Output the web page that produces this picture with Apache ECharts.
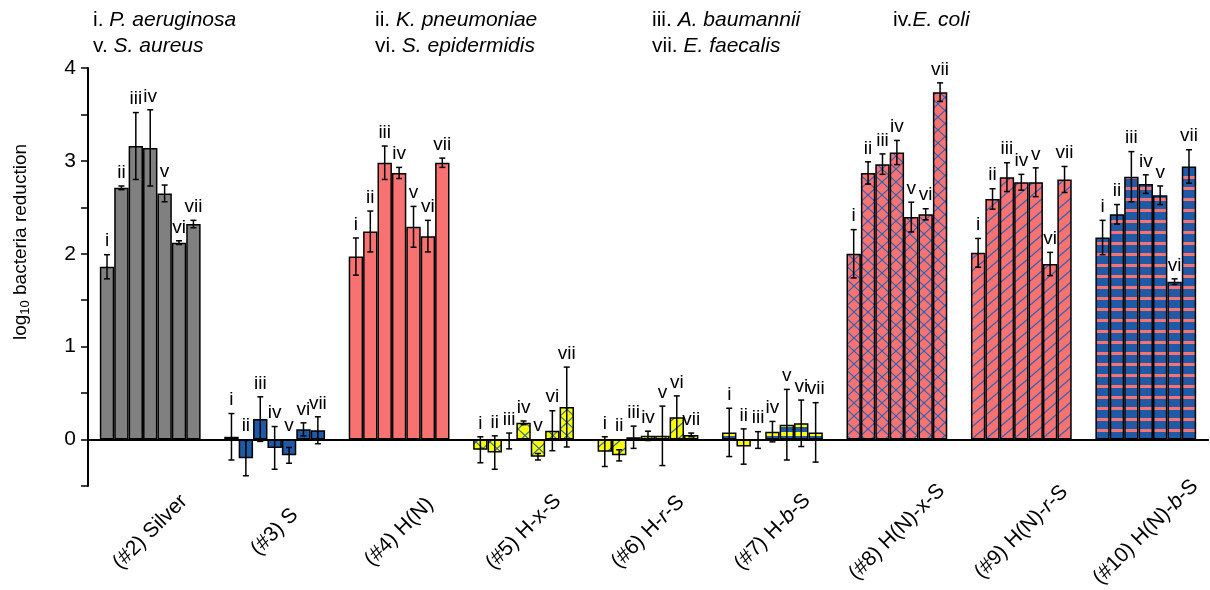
<!DOCTYPE html>
<html>
<head>
<meta charset="utf-8">
<script src="https://cdn.jsdelivr.net/npm/echarts@6/dist/echarts.min.js"></script>
<style>
  html, body { margin: 0; padding: 0; background: #fff; }
  #chart { width: 1210px; height: 590px; }
</style>
</head>
<body>
<div id="chart"></div>
<script>
// Sample groups along the x axis
const categories = ['(#2) Silver', '(#3) S', '(#4) H(N)', '(#5) H-x-S', '(#6) H-r-S',
  '(#7) H-b-S', '(#8) H(N)-x-S', '(#9) H(N)-r-S', '(#10) H(N)-b-S'];
// Strains tested on every sample (i..vii)
const strainLabels = ['i', 'ii', 'iii', 'iv', 'v', 'vi', 'vii'];
const yTicks = [-0.5, 4, 0.5]; // min, max, step

// log10 reduction (mean) and error (±) per sample, strains i..vii
const silverMean = [1.86, 2.71, 3.16, 3.14, 2.65, 2.12, 2.32];
const silverErr  = [0.13, 0.02, 0.36, 0.41, 0.09, 0.02, 0.04];
const sMean      = [0.03, -0.20, 0.22, -0.09, -0.17, 0.11, 0.10];
const sErr       = [0.25, 0.19, 0.24, 0.23, 0.085, 0.07, 0.145];
const hnMean     = [1.97, 2.24, 2.98, 2.87, 2.29, 2.19, 2.98];
const hnErr      = [0.20, 0.22, 0.18, 0.06, 0.22, 0.17, 0.05];
const hxsMean    = [-0.11, -0.14, -0.015, 0.18, -0.185, 0.095, 0.35];
const hxsErr     = [0.14, 0.18, 0.085, 0.02, 0.035, 0.215, 0.43];
const hrsMean    = [-0.13, -0.17, 0.025, 0.04, 0.04, 0.24, 0.05];
const hrsErr     = [0.16, 0.06, 0.12, 0.05, 0.32, 0.23, 0.02];
const hbsMean    = [0.077, -0.075, -0.005, 0.085, 0.16, 0.175, 0.077];
const hbsErr     = [0.26, 0.19, 0.09, 0.11, 0.38, 0.25, 0.32];
const hnxsMean   = [2.00, 2.87, 2.965, 3.09, 2.395, 2.425, 3.74];
const hnxsErr    = [0.26, 0.12, 0.11, 0.13, 0.16, 0.06, 0.10];
const hnrsMean   = [2.01, 2.59, 2.825, 2.77, 2.77, 1.89, 2.80];
const hnrsErr    = [0.155, 0.11, 0.155, 0.085, 0.155, 0.125, 0.14];
const hnbsMean   = [2.175, 2.425, 2.83, 2.75, 2.63, 1.70, 2.94];
const hnbsErr    = [0.185, 0.105, 0.27, 0.10, 0.10, 0.03, 0.18];

const groupMeans = [silverMean, sMean, hnMean, hxsMean, hrsMean, hbsMean, hnxsMean, hnrsMean, hnbsMean];
const groupErrs  = [silverErr, sErr, hnErr, hxsErr, hrsErr, hbsErr, hnxsErr, hnrsErr, hnbsErr];

const FONT = '"Liberation Sans", Arial, sans-serif';
const GRAY = '#808080', BLUE = '#2059a6', SALMON = '#f97272', YELLOW = '#ffff00', HATCH = '#2a63b3';
const CAT_GAP = 0.19;

// Tiled fills for the hatched bars
function tile(w, h, bg, draw) {
  const c = document.createElement('canvas');
  c.width = w; c.height = h;
  const ctx = c.getContext('2d');
  ctx.fillStyle = bg; ctx.fillRect(0, 0, w, h);
  draw(ctx, w, h);
  return { image: c, repeat: 'repeat' };
}
function crossFill(bg) {
  return tile(14, 13, bg, (ctx, w, h) => {
    ctx.strokeStyle = HATCH; ctx.lineWidth = 1.1;
    for (const dx of [-w, 0, w]) for (const dy of [-h, 0, h]) {
      ctx.beginPath(); ctx.moveTo(dx, dy); ctx.lineTo(dx + w, dy + h); ctx.stroke();
      ctx.beginPath(); ctx.moveTo(dx + w, dy); ctx.lineTo(dx, dy + h); ctx.stroke();
    }
  });
}
function diagFill(bg) {
  return tile(14, 12, bg, (ctx, w, h) => {
    ctx.strokeStyle = HATCH; ctx.lineWidth = 1.3;
    for (const dx of [-w, 0, w]) for (const dy of [-h, 0, h]) {
      ctx.beginPath(); ctx.moveTo(dx, dy + h); ctx.lineTo(dx + w, dy); ctx.stroke();
    }
  });
}
function stripeFill(base, stripe, h, sh) {
  return tile(4, h, base, (ctx, w) => { ctx.fillStyle = stripe; ctx.fillRect(0, 0, w, sh); });
}

const groupFills = [
  GRAY, BLUE, SALMON,
  crossFill(YELLOW), diagFill(YELLOW), stripeFill(BLUE, YELLOW, 9, 4),
  crossFill(SALMON), diagFill(SALMON), stripeFill(BLUE, SALMON, 11, 3)
];

const barSeries = strainLabels.map((s, k) => ({
  type: 'bar',
  name: s,
  xAxisIndex: 0,
  yAxisIndex: 0,
  barGap: '0%',
  barCategoryGap: (CAT_GAP * 100) + '%',
  itemStyle: { borderColor: '#000', borderWidth: 1.5 },
  emphasis: { disabled: true },
  data: categories.map((c, g) => ({ value: groupMeans[g][k], itemStyle: { color: groupFills[g] } }))
}));

const errData = [];
categories.forEach((c, g) => strainLabels.forEach((s, k) => {
  errData.push([g, k, groupMeans[g][k], groupErrs[g][k]]);
}));

function renderErr(params, api) {
  const g = api.value(0), k = api.value(1), m = api.value(2), e = api.value(3);
  const band = api.size([1, 0])[0];
  const bw = band * (1 - CAT_GAP) / strainLabels.length;
  const cx = api.coord([g, 0])[0] + (k - (strainLabels.length - 1) / 2) * bw;
  const yTop = api.coord([g, m + e])[1];
  const yBot = api.coord([g, m - e])[1];
  const yLab = api.coord([g, Math.max(m + e, m, 0)])[1];
  const st = { stroke: '#000', lineWidth: 1.5 };
  const cap = 3;
  return {
    type: 'group',
    children: [
      { type: 'line', shape: { x1: cx, y1: yTop, x2: cx, y2: yBot }, style: st },
      { type: 'line', shape: { x1: cx - cap, y1: yTop, x2: cx + cap, y2: yTop }, style: st },
      { type: 'line', shape: { x1: cx - cap, y1: yBot, x2: cx + cap, y2: yBot }, style: st },
      { type: 'text', x: cx, y: yLab - 4,
        style: { text: strainLabels[k], fontSize: 19, fontFamily: FONT, fill: '#000',
                 align: 'center', verticalAlign: 'bottom' } }
    ]
  };
}

const italicRich = { it: { fontStyle: 'italic', fontSize: 21, fontFamily: FONT, color: '#000' } };
function xLabel(v) {
  return v.replace(/-([rb])-/, '-{it|$1}-');
}

const legendRich = { it: { fontStyle: 'italic', fontSize: 21, fontFamily: FONT, fill: '#000' } };
function legendText(x, y, text) {
  return { type: 'text', x: x, y: y,
    style: { text: text, fontSize: 21, fontFamily: FONT, fill: '#000', verticalAlign: 'middle', rich: legendRich } };
}

const yAxisBase = {
  type: 'value',
  min: yTicks[0], max: yTicks[1], interval: yTicks[2]
};

const chart = echarts.init(document.getElementById('chart'), null, { renderer: 'canvas' });
chart.setOption({
  animation: false,
  backgroundColor: '#fff',
  grid: { left: 88, right: 2, top: 68, bottom: 104, containLabel: false, outerBoundsMode: 'none' },
  xAxis: [
    {
      type: 'category',
      data: categories,
      axisLine: { onZero: true, onZeroAxisIndex: 0, lineStyle: { color: '#000', width: 2 } },
      axisTick: { alignWithLabel: true, length: 10, lineStyle: { color: '#000', width: 1.5 } },
      axisLabel: {
        interval: 0, rotate: 45, margin: 46, align: 'center', verticalAlign: 'middle',
        fontSize: 21, fontFamily: FONT, color: '#000', formatter: xLabel, rich: italicRich
      },
      splitLine: { show: false }
    },
    {
      // boundary ticks between the sample groups
      type: 'category',
      data: categories,
      position: 'bottom',
      axisLine: { onZero: true, onZeroAxisIndex: 1, lineStyle: { color: '#000', width: 2 } },
      axisTick: { length: 5, lineStyle: { color: '#000', width: 1.5 } },
      axisLabel: { show: false },
      splitLine: { show: false }
    }
  ],
  yAxis: [
    Object.assign({}, yAxisBase, {
      axisLine: { show: true, lineStyle: { color: '#000', width: 2 } },
      axisTick: { show: true, length: 7, lineStyle: { color: '#000', width: 1.5 } },
      splitLine: { show: false },
      axisLabel: {
        formatter: v => (Number.isInteger(v) ? String(v) : ''),
        fontSize: 21, fontFamily: FONT, color: '#000', margin: 12
      },
      name: '{a|log}{s|10}{a| bacteria reduction}',
      nameLocation: 'middle',
      nameRotate: 90,
      nameGap: 56,
      nameTextStyle: {
        padding: [0, 0, 0, 70],
        rich: {
          a: { fontSize: 19, fontFamily: FONT, color: '#000', lineHeight: 22 },
          s: { fontSize: 13, fontFamily: FONT, color: '#000', lineHeight: 22, verticalAlign: 'bottom', padding: [6, 0, 0, 0] }
        }
      }
    }),
    Object.assign({}, yAxisBase, {
      show: false,
      position: 'left',
      axisLine: { show: false },
      axisTick: { show: false },
      axisLabel: { show: false },
      splitLine: { show: false }
    })
  ],
  series: barSeries.concat([{
    type: 'custom',
    xAxisIndex: 0,
    yAxisIndex: 0,
    data: errData,
    encode: { x: 0, y: 2 },
    renderItem: renderErr,
    z: 5
  }]),
  graphic: [
    legendText(93, 20, 'i. {it|P. aeruginosa}'),
    legendText(93, 46, 'v. {it|S. aureus}'),
    legendText(375, 20, 'ii. {it|K. pneumoniae}'),
    legendText(375, 46, 'vi. {it|S. epidermidis}'),
    legendText(652, 20, 'iii. {it|A. baumannii}'),
    legendText(652, 46, 'vii. {it|E. faecalis}'),
    legendText(893, 20, 'iv.{it|E. coli}')
  ]
});
</script>
</body>
</html>
